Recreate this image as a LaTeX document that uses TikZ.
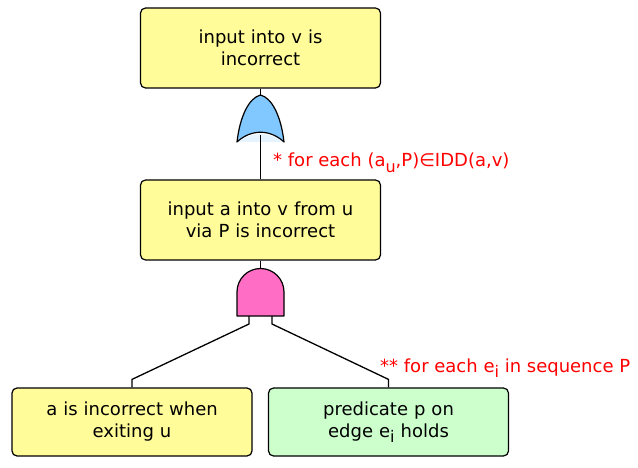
\documentclass[tikz,border=0pt]{standalone}
\usepackage{fontspec}
\setmainfont{DejaVu Sans}
\usetikzlibrary{positioning}

\definecolor{eventyellow}{HTML}{FFFC99}
\definecolor{eventgreen}{HTML}{CCFFCC}
\definecolor{orblue}{HTML}{80C8FF}
\definecolor{andpink}{HTML}{FF6EC4}
\definecolor{notered}{HTML}{FF0000}

\newcommand{\lowsub}[1]{\raisebox{-0.3em}{\fontsize{16}{16}\selectfont #1}}

\tikzset{
	event/.style = {draw, rounded corners = 5pt, line width = 1.2pt, fill = eventyellow,
		minimum width = 240pt, text width = 220pt, align = center,
		font = \fontsize{18}{22}\selectfont},
	basic/.style = {event, fill = eventgreen, minimum height = 68pt},
	note/.style = {text = notered, anchor = base west, inner sep = 0pt,
		font = \fontsize{18}{22}\selectfont},
	gate/.style = {draw, line width = 1.2pt, line join = round},
	wire/.style = {line width = 1.3pt}
}

\begin{document}
\begin{tikzpicture}[x = 1pt, y = -1pt]

	\useasboundingbox (0, 0) rectangle (638, 468);

	% Events
	
	\node [event, minimum height = 80pt] (top) at (260.5, 48) {input into v is\\incorrect};
	\node [event, minimum height = 80pt] (via) at (260.5, 220) {input a into v from u\\via P is incorrect};
	\node [event, minimum height = 68pt] (exit) at (132, 422) {a is incorrect when\\exiting u};
	\node [basic] (pred) at (388.5, 422) {predicate p on\\edge e\lowsub{i} holds};

	% Gate ports
	
	\coordinate (orin) at (260.5, 95);
	\coordinate (orout) at (260.5, 135);
	\coordinate (andin) at (260.5, 268);
	\coordinate (andl) at (249, 316);
	\coordinate (andr) at (272, 316);
	
	% OR gate
	
	\draw [gate, fill = orblue] (237, 142) .. controls (240, 116) and (249, 98) .. (orin)
		.. controls (272, 98) and (281, 116) .. (284, 142)
		.. controls (270, 129) and (251, 129) .. cycle;
	\fill [orblue!20] (238.5, 142) .. controls (251, 131.5) and (270, 131.5) .. (282.5, 142) -- cycle;
	
	% AND gate
	
	\draw [gate, fill = andpink] (237, 316) -- (237, 292) arc (180:360:23.5) -- (284, 316) -- cycle;

	% Connectors
	
	\draw [wire] (top.south) -- (orin);
	\draw [wire] (orout) -- (via.north);
	\draw [wire] (via.south) -- (andin);
	\draw [wire] (andl) -- ++(0, 8) -- ([yshift = 8pt] exit.north) -- (exit.north);
	\draw [wire] (andr) -- ++(0, 8) -- ([yshift = 8pt] pred.north) -- (pred.north);
	
	% Notes
	
	\node [note] (ornote) at (273, 167) {* for each (a\lowsub{u},P)∈IDD(a,v)};
	\node [note] (andnote) at (380, 372) {** for each e\lowsub{i} in sequence P};

\end{tikzpicture}
\end{document}
